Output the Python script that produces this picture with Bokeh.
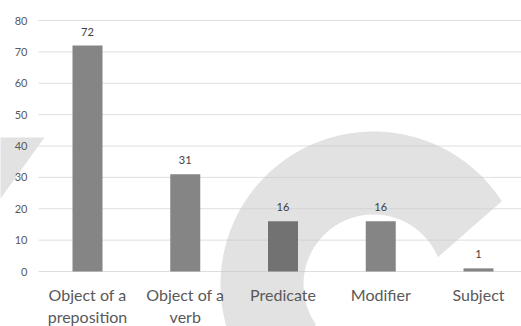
import numpy as np
from bokeh.plotting import figure
from bokeh.models import Range1d
from bokeh.core.properties import value
from bokeh.embed import file_html
from bokeh.resources import INLINE

# --- data -------------------------------------------------------------
categories = ["Object of a\npreposition", "Object of a\nverb", "Predicate", "Modifier", "Subject"]
counts = [72, 31, 16, 16, 1]
y_ticks = [0, 10, 20, 30, 40, 50, 60, 70, 80]

# --- canvas geometry (pixels per data unit) -----------------------------
W, H = 521, 326
PX = 97.75     # pixels per category
PY = 3.1375    # pixels per count
X0 = -87 / PX
Y0 = -55 / PY
x_range = Range1d(X0, X0 + W / PX)
y_range = Range1d(Y0, Y0 + H / PY)

p = figure(width=W, height=H, x_range=x_range, y_range=y_range,
           output_backend="svg", toolbar_location=None,
           x_axis_location=None, y_axis_location=None, min_border=0)
p.xgrid.visible = False
p.ygrid.visible = False
p.outline_line_color = None
p.background_fill_color = "white"
p.border_fill_color = "white"


def to_data(px, py):
    """pixel position (from top-left) -> data coordinates"""
    return X0 + np.asarray(px) / PX, Y0 + (H - np.asarray(py)) / PY


# faint background logo: a thick arc plus a small arrow tip at the left
cx, cy = 373, 284
r_in, r_out = 70, 153
a_out = np.radians(np.linspace(33, 215, 120))
a_in = np.radians(np.linspace(215, 23, 120))
ring_px = np.concatenate([cx + r_out * np.cos(a_out), cx + r_in * np.cos(a_in)])
ring_py = np.concatenate([cy - r_out * np.sin(a_out), cy - r_in * np.sin(a_in)])
rx, ry = to_data(ring_px, ring_py)
p.patch(rx, ry, fill_color="#e2e2e2", line_color=None)
tx, ty = to_data([-5, 44, -5], [137, 137, 205])
p.patch(tx, ty, fill_color="#e2e2e2", line_color=None)

# horizontal gridlines
gx0, _ = to_data(38, 0)
gx1, _ = to_data(W, 0)
p.segment(x0=[gx0] * len(y_ticks), x1=[gx1] * len(y_ticks), y0=y_ticks, y1=y_ticks,
          line_color="#c8c8c8", line_alpha=0.6, line_width=1)

# y tick labels
p.text(x=[X0] * len(y_ticks), y=y_ticks, text=[str(t) for t in y_ticks],
       x_offset=27, text_align="right", text_baseline="middle",
       text_font=value("Lato"), text_font_size="11px", text_color="#595959")

# bars
xs = list(range(len(categories)))
bar_colors = ["#858585", "#858585", "#727272", "#858585", "#858585"]
p.vbar(x=xs, top=counts, bottom=0, width=30 / PX, fill_color=bar_colors, line_color=None)

# value labels
p.text(x=xs, y=counts, text=[str(c) for c in counts], y_offset=-14,
       text_align="center", text_baseline="middle",
       text_font=value("Lato"), text_font_size="11px", text_color="#404040")

# category labels
p.text(x=xs, y=[0] * len(xs), text=categories, y_offset=13,
       text_align="center", text_baseline="top", text_line_height=1.2,
       text_font=value("Lato"), text_font_size="16px", text_color="#595959")

open("out.html", "w").write(file_html(p, INLINE))
